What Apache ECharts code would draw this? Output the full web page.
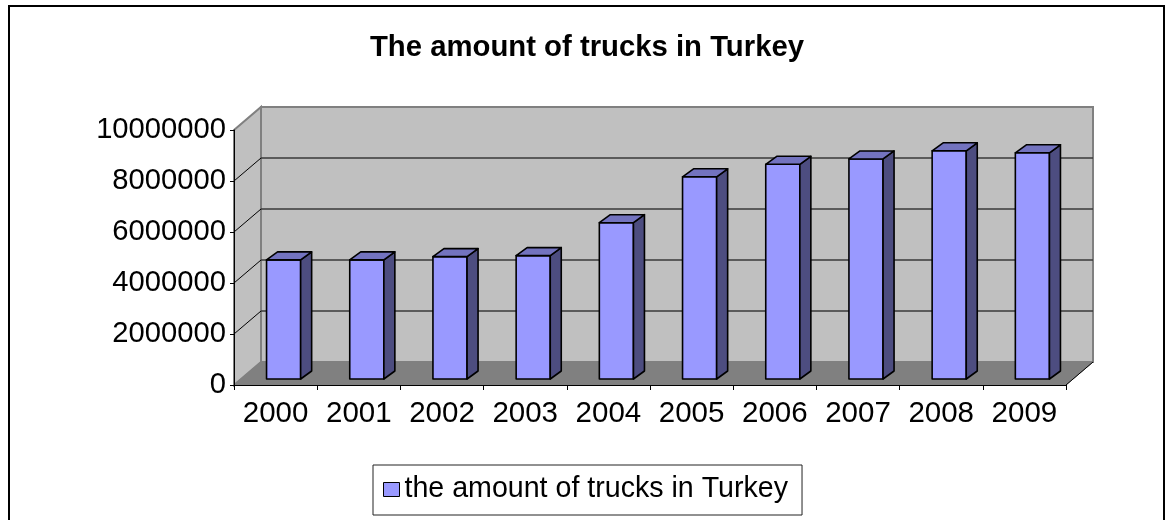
<!DOCTYPE html>
<html>
<head>
<meta charset="utf-8">
<script src="https://cdn.jsdelivr.net/npm/echarts@6/dist/echarts.min.js"></script>
<style>
  html, body { margin: 0; padding: 0; background: #fff; }
  #chart { width: 1167px; height: 520px; }
</style>
</head>
<body>
<div id="chart"></div>
<script>
// Chart data
const years = ['2000', '2001', '2002', '2003', '2004', '2005', '2006', '2007', '2008', '2009'];
const trucks = [4670000, 4670000, 4800000, 4840000, 6130000, 7930000, 8420000, 8630000, 8950000, 8870000];
const yTicks = [0, 2000000, 4000000, 6000000, 8000000, 10000000];
const titleText = 'The amount of trucks in Turkey';
const seriesName = 'the amount of trucks in Turkey';

// Pseudo-3D geometry (pixels)
const FONT = '"Liberation Sans", Arial, sans-serif';
const DEPTH = [27, -23];      // back wall offset from the front plane
const BAR_PLANE = [8, -6];    // bars' front face offset from the front plane
const BAR_DEPTH = [11, -8];   // bar thickness
const BAR_RATIO = 0.41;       // bar width as a share of the category band

function renderWalls(params, api) {
  const cs = params.coordSys;
  const x0 = cs.x, x1 = cs.x + cs.width;
  const yTop = cs.y, yBot = cs.y + cs.height;
  const dx = DEPTH[0], dy = DEPTH[1];
  const children = [];
  // side wall
  children.push({
    type: 'polygon',
    shape: { points: [[x0, yTop], [x0 + dx, yTop + dy], [x0 + dx, yBot + dy], [x0, yBot]] },
    style: { fill: '#C0C0C0', stroke: '#808080', lineWidth: 2 }
  });
  // back wall
  children.push({
    type: 'rect',
    shape: { x: x0 + dx, y: yTop + dy, width: cs.width, height: cs.height },
    style: { fill: '#C0C0C0', stroke: '#808080', lineWidth: 2 }
  });
  // gridlines on both walls
  const lo = yTicks[0], hi = yTicks[yTicks.length - 1];
  yTicks.forEach(function (v) {
    if (v === lo || v === hi) return;
    const y = api.coord([0, v])[1];
    children.push({
      type: 'line',
      shape: { x1: x0 + dx, y1: y + dy, x2: x1 + dx, y2: y + dy },
      style: { stroke: '#3a3a3a', lineWidth: 1.5 }
    });
    children.push({
      type: 'line',
      shape: { x1: x0, y1: y, x2: x0 + dx, y2: y + dy },
      style: { stroke: '#000', lineWidth: 1 }
    });
  });
  // floor
  children.push({
    type: 'polygon',
    shape: { points: [[x0, yBot], [x0 + dx, yBot + dy], [x1 + dx, yBot + dy], [x1, yBot]] },
    style: { fill: '#808080', stroke: '#808080', lineWidth: 1 }
  });
  // right floor edge
  children.push({
    type: 'line',
    shape: { x1: x1, y1: yBot, x2: x1 + dx, y2: yBot + dy },
    style: { stroke: '#000', lineWidth: 1 }
  });
  return { type: 'group', children: children };
}

function renderBar(params, api) {
  const i = api.value(0);
  const base = api.coord([i, 0]);
  const top = api.coord([i, api.value(1)]);
  const band = api.size([1, 0])[0];
  const w = band * BAR_RATIO;
  const xl = base[0] + BAR_PLANE[0] - w / 2, xr = xl + w;
  const yb = base[1] + BAR_PLANE[1], yt = top[1] + BAR_PLANE[1];
  const ddx = BAR_DEPTH[0], ddy = BAR_DEPTH[1];
  const edge = { stroke: '#000', lineWidth: 1.6, lineJoin: 'round' };
  return {
    type: 'group',
    children: [
      { type: 'polygon',
        shape: { points: [[xl, yt], [xr, yt], [xr, yb], [xl, yb]] },
        style: Object.assign({ fill: '#9999FF' }, edge) },
      { type: 'polygon',
        shape: { points: [[xr, yt], [xr + ddx, yt + ddy], [xr + ddx, yb + ddy], [xr, yb]] },
        style: Object.assign({ fill: '#4D4D80' }, edge) },
      { type: 'polygon',
        shape: { points: [[xl, yt], [xl + ddx, yt + ddy], [xr + ddx, yt + ddy], [xr, yt]] },
        style: Object.assign({ fill: '#7373BF' }, edge) }
    ]
  };
}

const chart = echarts.init(document.getElementById('chart'), null, { renderer: 'canvas' });
chart.setOption({
  animation: false,
  backgroundColor: '#fff',
  textStyle: { fontFamily: FONT },
  title: {
    text: titleText,
    left: 582,
    textAlign: 'center',
    top: 28,
    textStyle: { fontFamily: FONT, fontSize: 29.3, fontWeight: 'bold', color: '#000' }
  },
  graphic: [{
    type: 'rect',
    silent: true,
    z: -10,
    shape: { x: 9, y: 6, width: 1155, height: 560 },
    style: { fill: 'none', stroke: '#000', lineWidth: 2 }
  }],
  legend: {
    left: 373,
    top: 465,
    padding: [10, 14, 11, 10],
    borderColor: '#222',
    borderWidth: 1,
    backgroundColor: '#fff',
    itemWidth: 16,
    itemHeight: 14,
    selectedMode: false,
    textStyle: { fontFamily: FONT, fontSize: 28.6, color: '#000' },
    data: [{
      name: seriesName,
      icon: 'rect',
      itemStyle: { color: '#9999FF', borderColor: '#000', borderWidth: 1 }
    }]
  },
  grid: { left: 234, right: 101, top: 130, bottom: 135, outerBoundsMode: 'none' },
  xAxis: {
    type: 'category',
    data: years,
    boundaryGap: true,
    z: 5,
    axisLine: { show: true, lineStyle: { color: '#000', width: 1 } },
    axisTick: { show: true, length: 5, alignWithLabel: false, lineStyle: { color: '#000' } },
    axisLabel: { fontFamily: FONT, fontSize: 29.5, color: '#000', margin: 14, interval: 0 },
    splitLine: { show: false }
  },
  yAxis: {
    type: 'value',
    min: yTicks[0],
    max: yTicks[yTicks.length - 1],
    interval: yTicks[1] - yTicks[0],
    z: 5,
    axisLine: { show: true, lineStyle: { color: '#000', width: 1 } },
    axisTick: { show: true, length: 4, lineStyle: { color: '#000' } },
    axisLabel: {
      fontFamily: FONT, fontSize: 29.2, color: '#000', margin: 8,
      formatter: function (v) { return String(v); }
    },
    splitLine: { show: false }
  },
  series: [
    {
      name: 'walls',
      type: 'custom',
      z: 1,
      silent: true,
      renderItem: renderWalls,
      data: [[0, 0]]
    },
    {
      name: seriesName,
      type: 'custom',
      z: 10,
      itemStyle: { color: '#9999FF', borderColor: '#000', borderWidth: 1 },
      renderItem: renderBar,
      encode: { x: 0, y: 1 },
      data: trucks.map(function (v, i) { return [i, v]; })
    }
  ]
});
</script>
</body>
</html>
